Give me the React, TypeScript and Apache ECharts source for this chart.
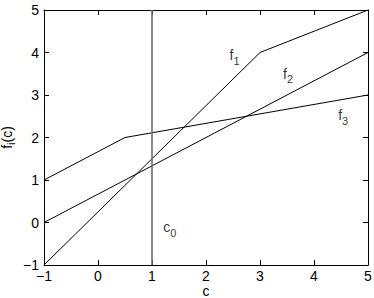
import React, { useEffect, useRef } from "react";
import * as echarts from "echarts";

const xTicks = { min: -1, max: 5, interval: 1 };
const yTicks = { min: -1, max: 5, interval: 1 };
const f1Points: [number, number][] = [[-1, -1], [3, 4], [5, 5]];
const f2Points: [number, number][] = [[-1, 0], [5, 4]];
const f3Points: [number, number][] = [[-1, 1], [0.5, 2], [5, 3]];
const c0Line: [number, number][] = [[1, -1], [1, 5]];
const annotations: { base: string; sub: string; at: [number, number] }[] = [
  { base: "f", sub: "1", at: [2.53, 3.93] },
  { base: "f", sub: "2", at: [3.52, 3.5] },
  { base: "f", sub: "3", at: [4.54, 2.52] },
  { base: "c", sub: "0", at: [1.33, -0.11] },
];

const FONT = "'Liberation Sans', Arial, Helvetica, sans-serif";

const fmt = (v: number) => String(v).replace("-", "\u2212");

export default function App() {
  const ref = useRef<HTMLDivElement>(null);
  useEffect(() => {
    document.body.style.margin = "0";
    if (!ref.current) return;
    const chart = echarts.init(ref.current, undefined, { renderer: "svg" });
    const tok = (fontSize: number, lineHeight: number, verticalAlign: string) => ({
      fontSize,
      fontFamily: FONT,
      fontWeight: "normal",
      color: "#000",
      textBorderWidth: 0,
      textBorderColor: "transparent",
      lineHeight,
      verticalAlign,
    });
    const rich = { a: tok(14, 22, "middle"), s: tok(11, 22, "bottom") };
    const nameRich = { a: tok(14, 18, "middle"), s: tok(11, 18, "bottom") };
    const axisCommon = {
      type: "value",
      axisLine: { show: true, onZero: false, lineStyle: { color: "#000", width: 1 } },
      axisTick: { show: true, inside: true, length: 5, lineStyle: { color: "#000" } },
      splitLine: { show: false },
    };
    const labelStyle = { fontSize: 14, fontFamily: FONT, color: "#000", formatter: fmt };
    const lineStyle = (color: string, width: number) => ({
      type: "line",
      symbol: "none",
      lineStyle: { color, width },
      silent: true,
    });
    chart.setOption({
      animation: false,
      grid: { left: 44, top: 10, width: 324, height: 255, containLabel: false, outerBoundsMode: "none" },
      xAxis: [
        {
          ...axisCommon,
          ...xTicks,
          position: "bottom",
          axisLabel: { ...labelStyle, margin: 4 },
          name: "c",
          nameLocation: "middle",
          nameGap: 19,
          nameMoveOverlap: false,
          nameTextStyle: { fontSize: 14, fontFamily: FONT, fontWeight: "normal", color: "#000" },
        },
        { ...axisCommon, ...xTicks, position: "top", axisLabel: { show: false } },
      ],
      yAxis: [
        {
          ...axisCommon,
          ...yTicks,
          position: "left",
          axisLabel: { ...labelStyle, margin: 5 },
          name: "{a|f}{s|i}{a|(c)}",
          nameLocation: "middle",
          nameGap: 28,
          nameMoveOverlap: false,
          nameTextStyle: { fontWeight: "normal", color: "#000", rich: nameRich },
        },
        { ...axisCommon, ...yTicks, position: "right", axisLabel: { show: false } },
      ],
      series: [
        { ...lineStyle("#000", 1), data: f1Points },
        { ...lineStyle("#000", 1), data: f2Points },
        { ...lineStyle("#000", 1), data: f3Points },
        { ...lineStyle("#6e6e6e", 1.6), data: c0Line },
        {
          type: "scatter",
          symbolSize: 0,
          silent: true,
          itemStyle: { color: "#000" },
          data: annotations.map((a) => ({
            value: a.at,
            label: {
              show: true,
              position: "inside",
              color: "#000",
              textBorderWidth: 0,
              textBorderColor: "transparent",
              formatter: `{a|${a.base}}{s|${a.sub}}`,
              rich,
            },
          })),
        },
      ],
    });
    return () => chart.dispose();
  }, []);
  return <div ref={ref} style={{ width: 374, height: 298 }} />;
}
